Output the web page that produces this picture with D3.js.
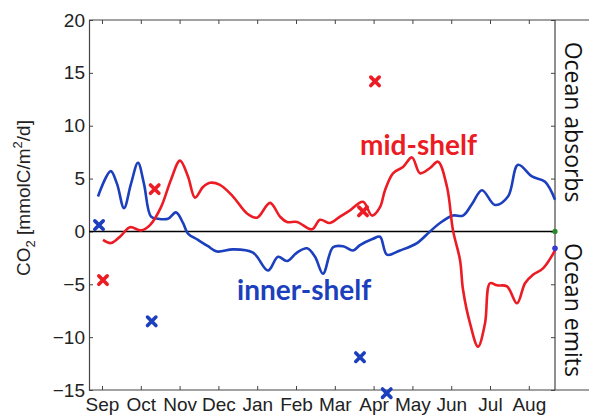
<!DOCTYPE html>
<html><head><meta charset="utf-8">
<script src="https://cdn.jsdelivr.net/npm/d3@7"></script>
<style>body{margin:0;background:#fff}svg{display:block}</style>
</head><body>
<script>
// month axis: 0 = Sep, 1 = Oct, ... 11 = Aug
const monthLabels = ["Sep","Oct","Nov","Dec","Jan","Feb","Mar","Apr","May","Jun","Jul","Aug"];
const yTicks = [-15,-10,-5,0,5,10,15,20];

const innerMonths = [-0.103,0.224,0.387,0.567,0.747,0.928,1.082,1.263,1.443,1.701,1.907,2.088,2.216,2.474,2.732,2.964,3.376,3.892,4.278,4.536,4.768,5.026,5.284,5.490,5.696,5.954,6.211,6.469,6.649,6.985,7.165,7.345,7.680,8.119,8.454,8.711,9.046,9.304,9.536,9.794,10.129,10.464,10.722,11.082,11.418,11.675];
const innerFlux = [3.3,5.7,4.5,2.2,4.5,6.5,4.5,1.4,1.2,1.2,1.8,0.8,-0.2,-0.8,-1.4,-1.9,-1.7,-2.0,-3.7,-2.4,-2.8,-2.0,-1.6,-2.4,-4.0,-1.5,-1.4,-1.8,-1.3,-0.7,-0.5,-2.2,-1.8,-1.1,0.0,0.8,1.5,1.5,2.6,3.9,2.5,3.3,6.3,5.2,4.7,3.0];

const midMonths = [0.026,0.232,0.490,0.722,1.005,1.237,1.521,1.778,2.010,2.216,2.397,2.603,2.784,3.041,3.376,3.737,3.995,4.330,4.588,4.768,5.026,5.412,5.619,5.876,6.134,6.392,6.727,6.959,7.165,7.294,7.500,7.758,7.990,8.196,8.454,8.660,8.892,9.046,9.227,9.304,9.485,9.691,9.871,10.000,10.180,10.438,10.696,10.902,11.108,11.366,11.675];
const midFlux = [-0.8,-1.1,-0.4,0.4,0.1,0.6,2.3,4.9,6.7,5.2,3.2,4.2,4.6,4.4,3.3,1.7,1.3,2.7,1.4,0.9,0.9,0.2,1.1,0.8,1.4,2.0,2.8,1.5,2.3,3.9,5.5,6.1,7.0,5.5,6.0,6.6,4.2,0.1,-2.7,-5.5,-8.7,-10.9,-8.7,-4.9,-5.1,-5.2,-6.8,-4.9,-4.1,-3.5,-1.8];

const midObsMonths = [0.026,1.358,7.036,6.727];
const midObsFlux = [-4.6,4.0,14.2,1.9];
const innerObsMonths = [-0.077,1.281,6.649,7.338];
const innerObsFlux = [0.6,-8.5,-11.9,-15.3];

const RED = "#ec1c24", BLUE = "#1c3fbd";
const W = 589, H = 418;
const m = {left:89, right:555, top:20, bottom:390};
const svg = d3.select("body").append("svg").attr("width",W).attr("height",H);

const x = d3.scaleLinear().domain([-0.335, 11.675]).range([m.left, m.right]);
const y = d3.scaleLinear().domain([-15, 20]).range([m.bottom, m.top]);
const FONT = "'Liberation Sans', Arial, sans-serif";
const AX = "#444";

// frame lines
svg.append("line").attr("x1",m.left).attr("x2",W).attr("y1",m.top).attr("y2",m.top).attr("stroke",AX).attr("stroke-width",1.2);
svg.append("line").attr("x1",m.left).attr("x2",W).attr("y1",m.bottom).attr("y2",m.bottom).attr("stroke",AX).attr("stroke-width",1.2);
svg.append("line").attr("x1",m.right).attr("x2",m.right).attr("y1",m.top).attr("y2",m.bottom).attr("stroke",AX).attr("stroke-width",1.2);

const monthTicks = d3.range(12);
const fmtMonth = i => monthLabels[i];

const gB = svg.append("g").attr("transform",`translate(0,${m.bottom})`)
  .call(d3.axisBottom(x).tickValues(monthTicks).tickFormat(fmtMonth).tickSize(-4).tickPadding(8));
const gT = svg.append("g").attr("transform",`translate(0,${m.top})`)
  .call(d3.axisTop(x).tickValues(monthTicks).tickFormat("").tickSize(-4));
const gL = svg.append("g").attr("transform",`translate(${m.left},0)`)
  .call(d3.axisLeft(y).tickValues(yTicks).tickFormat(d3.format("d")).tickSize(-4).tickPadding(4));
const gR = svg.append("g").attr("transform",`translate(${m.right},0)`)
  .call(d3.axisRight(y).tickValues(yTicks).tickFormat("").tickSize(-4));
[gB,gT,gL,gR].forEach(g=>{
  g.select(".domain").attr("stroke",AX).attr("stroke-width",1.2);
  g.selectAll(".tick line").attr("stroke",AX);
  g.selectAll("text").attr("font-family",FONT).attr("font-size",19).attr("fill","#222");
});
gT.select(".domain").remove();
gR.select(".domain").remove();
gB.select(".domain").remove();

// zero line
svg.append("line").attr("x1",m.left).attr("x2",m.right).attr("y1",y(0)).attr("y2",y(0)).attr("stroke","#000").attr("stroke-width",1.4);

// y label
const yl = svg.append("text").attr("transform",`translate(30,198) rotate(-90)`)
  .attr("text-anchor","middle").attr("font-family",FONT).attr("font-size",19).attr("fill","#222");
yl.append("tspan").text("CO");
yl.append("tspan").attr("font-size",13).attr("dy",5).text("2");
yl.append("tspan").attr("dy",-5).text(" [mmolC/m");
yl.append("tspan").attr("font-size",13).attr("dy",-8).text("2");
yl.append("tspan").attr("dy",8).text("/d]");

// lines
const line = d3.line().x(d=>x(d[0])).y(d=>y(d[1])).curve(d3.curveCatmullRom.alpha(0.5));
svg.append("path").datum(d3.zip(innerMonths, innerFlux)).attr("d",line)
  .attr("fill","none").attr("stroke",BLUE).attr("stroke-width",2.6).attr("stroke-linejoin","round");
svg.append("path").datum(d3.zip(midMonths, midFlux)).attr("d",line)
  .attr("fill","none").attr("stroke",RED).attr("stroke-width",2.6).attr("stroke-linejoin","round");

// end dots
svg.append("circle").attr("cx",x(11.675)).attr("cy",y(0)).attr("r",2.6).attr("fill","#2a8a2a");
svg.append("circle").attr("cx",x(11.675)).attr("cy",y(-1.6)).attr("r",2.8).attr("fill","#3a3ad0");

// observation crosses
function drawX(ms, vs, col){
  svg.append("g").selectAll("path").data(d3.zip(ms,vs)).join("path")
    .attr("d", d=>{const cx=x(d[0]), cy=y(d[1]), s=4.2; return `M${cx-s},${cy-s}L${cx+s},${cy+s}M${cx-s},${cy+s}L${cx+s},${cy-s}`;})
    .attr("stroke",col).attr("stroke-width",3.6).attr("stroke-linecap","round").attr("fill","none");
}
drawX(midObsMonths, midObsFlux, RED);
drawX(innerObsMonths, innerObsFlux, BLUE);

// series labels
const LFONT = "Lato, 'Open Sans', sans-serif";
svg.append("text").attr("x",x(6.65)).attr("y",y(7.2)).attr("font-family",LFONT).attr("font-weight","bold")
  .attr("font-size",28).attr("fill",RED).text("mid-shelf");
svg.append("text").attr("x",x(3.48)).attr("y",y(-6.5)).attr("font-family",LFONT).attr("font-weight","bold")
  .attr("font-size",28).attr("fill",BLUE).text("inner-shelf");

// side labels
const SFONT = "'Open Sans', Lato, sans-serif";
svg.append("text").attr("transform",`translate(565,${y(10.35)}) rotate(90)`).attr("text-anchor","middle")
  .attr("font-family",SFONT).attr("font-size",23).attr("fill","#111").text("Ocean absorbs");
svg.append("text").attr("transform",`translate(565,${y(-7.43)}) rotate(90)`).attr("text-anchor","middle")
  .attr("font-family",SFONT).attr("font-size",23).attr("fill","#111").text("Ocean emits");
</script>
</body></html>
